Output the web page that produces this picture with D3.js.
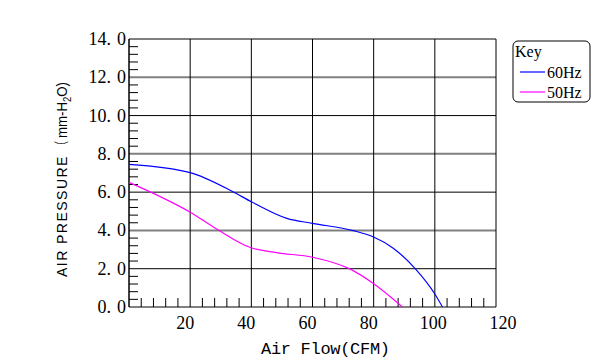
<!DOCTYPE html>
<html><head><meta charset="utf-8">
<script src="https://cdn.jsdelivr.net/npm/d3@7"></script>
<style>body{margin:0;background:#fff}svg{display:block}</style>
</head><body>
<svg id="c" width="600" height="360"></svg>
<script>
const flow60 = [0, 20, 34, 40, 51.6, 60, 73.3, 79.8, 86.4, 93.5, 100, 102.5];
const press60 = [7.45, 7.02, 6.02, 5.50, 4.63, 4.37, 3.99, 3.67, 3.07, 2.02, 0.68, 0];
const flow50 = [0, 20, 29.2, 39.5, 48.2, 60, 72.2, 79.8, 89.4];
const press50 = [6.51, 4.95, 4.02, 3.12, 2.84, 2.60, 1.99, 1.24, 0];
const xTicks = [20, 40, 60, 80, 100, 120];
const yTicks = [0, 2, 4, 6, 8, 10, 12, 14];
const seriesNames = ["60Hz", "50Hz"];
const seriesColors = ["#0000ff", "#ff00ff"];

const svg = d3.select("#c");
const x = d3.scaleLinear().domain([0, 120]).range([129, 496]);
const y = d3.scaleLinear().domain([0, 14]).range([307, 39]);

// horizontal grid
yTicks.forEach(v => {
  const gray = v !== 14 && v % 4 === 0;
  svg.append("line").attr("x1", x(0)).attr("x2", x(120)).attr("y1", y(v)).attr("y2", y(v))
    .attr("stroke", gray ? "#808080" : "#000")
    .attr("stroke-width", gray ? 2 : 1);
});
// vertical grid
xTicks.forEach(v => {
  svg.append("line").attr("x1", x(v)).attr("x2", x(v)).attr("y1", y(14)).attr("y2", y(0))
    .attr("stroke", "#000").attr("stroke-width", 1);
});
svg.append("line").attr("x1", x(0)).attr("x2", x(0)).attr("y1", y(14)).attr("y2", y(0))
  .attr("stroke", "#000").attr("stroke-width", 1.5);

// minor ticks
d3.range(0, 120, 4).forEach(v => {
  if (v % 20 === 0) return;
  svg.append("line").attr("x1", x(v)).attr("x2", x(v)).attr("y1", y(0)).attr("y2", y(0) - 9)
    .attr("stroke", "#000").attr("stroke-width", 1);
});
d3.range(0, 14, 0.4).forEach(v => {
  if (Math.abs(v / 2 - Math.round(v / 2)) < 1e-6) return;
  svg.append("line").attr("x1", x(0)).attr("x2", x(0) + 9).attr("y1", y(v)).attr("y2", y(v))
    .attr("stroke", "#000").attr("stroke-width", 1);
});

// tick labels
yTicks.forEach(v => {
  const s = v.toFixed(1);
  const t = svg.append("text").attr("x", 126).attr("y", y(v) + 6).attr("text-anchor", "end")
    .attr("font-family", "Liberation Serif, serif").attr("font-size", 18).attr("fill", "#000");
  t.append("tspan").text(s.slice(0, -1));
  t.append("tspan").attr("dx", 6).text(s.slice(-1));
});
xTicks.forEach(v => {
  svg.append("text").attr("x", x(v) + (v >= 100 ? (v===120?7:-1.5) : -5)).attr("y", 329).attr("text-anchor", "middle")
    .attr("font-family", "Liberation Serif, serif").attr("font-size", 18).attr("fill", "#000")
    .text(v);
});

// curves
const line = d3.line().x(d => x(d[0])).y(d => y(d[1])).curve(d3.curveMonotoneX);
[[flow60, press60], [flow50, press50]].forEach((s, i) => {
  const pts = s[0].map((f, j) => [f, s[1][j]]);
  svg.append("path").attr("d", line(pts)).attr("fill", "none")
    .attr("stroke", seriesColors[i]).attr("stroke-width", 1.2);
});

// axis titles
svg.append("text").attr("x", 261).attr("y", 354)
  .attr("font-family", "Liberation Mono, monospace").attr("font-size", 17).attr("fill", "#000")
  .attr("textLength", 129).attr("lengthAdjust", "spacing")
  .text("Air Flow(CFM)");

const ytg = svg.append("g").attr("transform", "translate(67,277) rotate(-90)");
function piece(x0, len, build) {
  const g = ytg.append("g");
  const t = g.append("text").attr("font-family", "Liberation Sans, sans-serif")
    .attr("font-size", 15).attr("fill", "#000").attr("letter-spacing", 1.5);
  build(t);
  const w = t.node().getBBox().width;
  g.attr("transform", `translate(${x0},0) scale(${len / w},1)`);
}
piece(0, 122, t => t.text("AIR PRESSURE"));
piece(126, 10, t => t.attr("font-family", "Noto Sans CJK JP").attr("letter-spacing", 0).text("（"));
piece(139, 56, t => {
  t.attr("font-size", 14).attr("letter-spacing", 0);
  t.append("tspan").text("mm-H");
  t.append("tspan").attr("font-size", 10).attr("dy", 4).text("2");
  t.append("tspan").attr("dy", -4).text("O)");
});

// legend
svg.append("rect").attr("x", 513).attr("y", 41).attr("width", 77).attr("height", 61)
  .attr("rx", 5).attr("fill", "#fff").attr("stroke", "#000").attr("stroke-width", 1);
svg.append("text").attr("x", 515).attr("y", 57).attr("font-family", "Liberation Serif, serif")
  .attr("font-size", 16).attr("fill", "#000").text("Key");
seriesNames.forEach((n, i) => {
  const ly = 72 + i * 20;
  svg.append("line").attr("x1", 520).attr("x2", 545).attr("y1", ly).attr("y2", ly)
    .attr("stroke", seriesColors[i]).attr("stroke-width", 1.2);
  svg.append("text").attr("x", 547).attr("y", ly + 6).attr("font-family", "Liberation Serif, serif")
    .attr("font-size", 16).attr("fill", "#000").text(n);
});
</script>
</body></html>
